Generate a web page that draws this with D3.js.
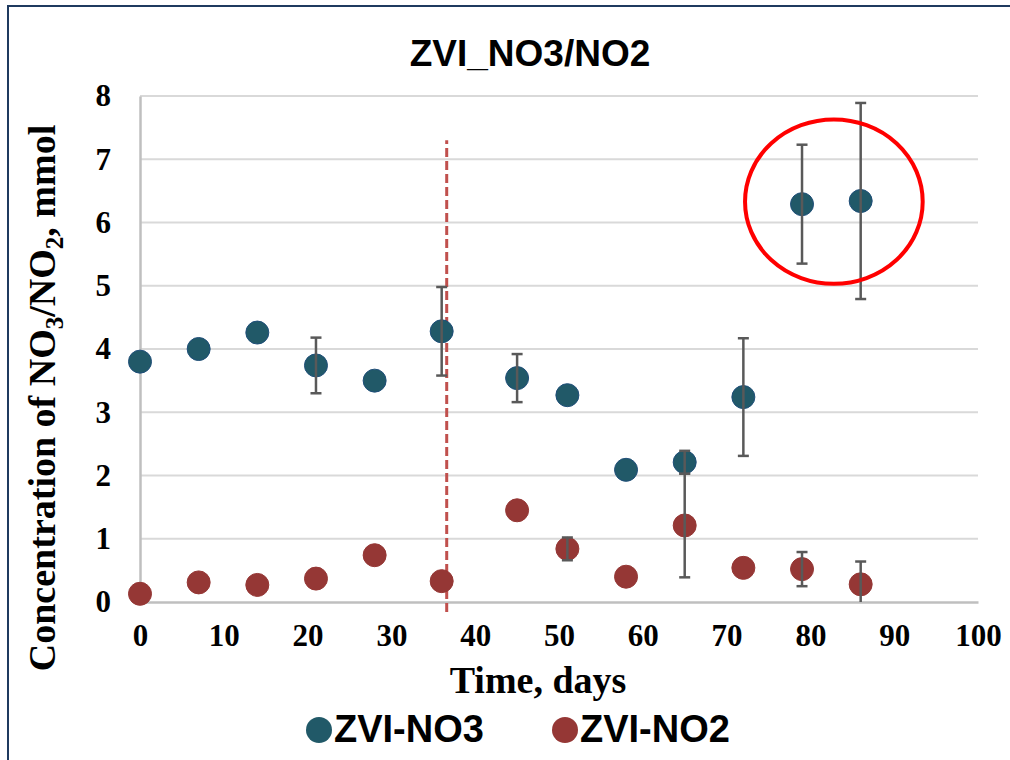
<!DOCTYPE html>
<html>
<head>
<meta charset="utf-8">
<script src="https://cdn.jsdelivr.net/npm/d3@7"></script>
<style>
  body { margin: 0; background: #fff; }
  svg { display: block; }
</style>
</head>
<body>
<div id="chart"></div>
<script>
// Data
var days = [0, 7, 14, 21, 28, 36, 45, 51, 58, 65, 72, 79, 86]
var no3 = [3.80, 4.00, 4.26, 3.74, 3.50, 4.28, 3.54, 3.27, 2.09, 2.21, 3.24, 6.29, 6.34]
var no3Err = [0, 0, 0, 0.44, 0, 0.70, 0.38, 0, 0, 0.18, 0.93, 0.94, 1.55]
var no2 = [0.13, 0.31, 0.27, 0.37, 0.74, 0.33, 1.45, 0.84, 0.40, 1.21, 0.54, 0.52, 0.28]
var no2Err = [0, 0, 0, 0, 0, 0, 0, 0.18, 0, 0.82, 0, 0.27, 0.36]
var xTicks = [0, 10, 20, 30, 40, 50, 60, 70, 80, 90, 100]
var yTicks = [0, 1, 2, 3, 4, 5, 6, 7, 8]
var markerDay = 36.6
var markerRange = [-0.16, 7.3]
var highlight = { day: 82.8, value: 6.33, rDays: 10.6, rValue: 1.3 }

var svgWidth = 1010
var svgHeight = 760

var margin = { top: 96, right: 32, bottom: 158, left: 140 }
var width = svgWidth - margin.left - margin.right
var height = svgHeight - margin.top - margin.bottom

var svg = d3.select("#chart")
  .append("svg")
  .attr("width", svgWidth)
  .attr("height", svgHeight)

// outer frame (only top and left edges fall inside the picture)
svg.append("path")
  .attr("d", "M8,760 L8,6 L1010,6")
  .attr("fill", "none")
  .attr("stroke", "#1f3a5f")
  .attr("stroke-width", 2)

var chartGroup = svg.append("g")
  .attr("transform", `translate(${margin.left}, ${margin.top})`)

var xScale = d3.scaleLinear().domain([0, 100]).range([0, width])
var yScale = d3.scaleLinear().domain([0, 8]).range([height, 0])

// horizontal gridlines
chartGroup.append("g")
  .selectAll("line")
  .data(yTicks.slice(1))
  .enter()
  .append("line")
  .attr("x1", 0)
  .attr("x2", width)
  .attr("y1", d => yScale(d))
  .attr("y2", d => yScale(d))
  .attr("stroke", "#d9d9d9")
  .attr("stroke-width", 2)

// axes
var bottomAxis = d3.axisBottom(xScale).tickValues(xTicks).tickSize(0).tickPadding(22)
var leftAxis = d3.axisLeft(yScale).tickValues(yTicks).tickSize(0).tickPadding(29)

var xAxis = chartGroup.append("g")
  .attr("transform", `translate(0, ${height})`)
  .call(bottomAxis)

var yAxis = chartGroup.append("g")
  .call(leftAxis)

xAxis.select(".domain").attr("stroke", "#bfbfbf").attr("stroke-width", 2.5)
yAxis.select(".domain").attr("stroke", "#bfbfbf").attr("stroke-width", 2.5)

chartGroup.selectAll(".tick text")
  .attr("font-family", "'Liberation Serif', 'Times New Roman', serif")
  .attr("font-weight", "bold")
  .attr("font-size", 31)
  .attr("fill", "#000")

// dashed reference line
chartGroup.append("line")
  .attr("x1", xScale(markerDay))
  .attr("x2", xScale(markerDay))
  .attr("y1", yScale(markerRange[0]))
  .attr("y2", yScale(markerRange[1]))
  .attr("stroke", "#c0504d")
  .attr("stroke-width", 3)
  .attr("stroke-dasharray", "9,4")

// error bars
function drawErrors(vals, errs) {
  var rows = days.map((d, i) => ({ day: d, v: vals[i], e: errs[i] })).filter(r => r.e > 0)
  var g = chartGroup.append("g")
    .attr("stroke", "#595959")
    .attr("stroke-width", 2.5)
  g.selectAll(".bar").data(rows).enter().append("line")
    .attr("x1", r => xScale(r.day))
    .attr("x2", r => xScale(r.day))
    .attr("y1", r => yScale(Math.max(0, r.v - r.e)))
    .attr("y2", r => yScale(r.v + r.e))
  g.selectAll(".capTop").data(rows).enter().append("line")
    .attr("x1", r => xScale(r.day) - 5.5)
    .attr("x2", r => xScale(r.day) + 5.5)
    .attr("y1", r => yScale(r.v + r.e))
    .attr("y2", r => yScale(r.v + r.e))
  g.selectAll(".capBottom").data(rows.filter(r => r.v - r.e > 0)).enter().append("line")
    .attr("x1", r => xScale(r.day) - 5.5)
    .attr("x2", r => xScale(r.day) + 5.5)
    .attr("y1", r => yScale(r.v - r.e))
    .attr("y2", r => yScale(r.v - r.e))
}

function drawPoints(vals, fill, stroke) {
  chartGroup.append("g")
    .selectAll("circle")
    .data(days.map((d, i) => ({ day: d, v: vals[i] })))
    .enter()
    .append("circle")
    .attr("cx", r => xScale(r.day))
    .attr("cy", r => yScale(r.v))
    .attr("r", 11.5)
    .attr("fill", fill)
    .attr("stroke", stroke)
    .attr("stroke-width", 1)
}

drawPoints(no2, "#953735", "#953735")
drawErrors(no2, no2Err)
drawPoints(no3, "#215968", "#1f4e79")
drawErrors(no3, no3Err)

// red highlight ellipse
chartGroup.append("ellipse")
  .attr("cx", xScale(highlight.day))
  .attr("cy", yScale(highlight.value))
  .attr("rx", xScale(highlight.rDays) - xScale(0))
  .attr("ry", yScale(0) - yScale(highlight.rValue))
  .attr("fill", "none")
  .attr("stroke", "#ff0000")
  .attr("stroke-width", 4)

// title
svg.append("text")
  .attr("x", 530)
  .attr("y", 66)
  .attr("text-anchor", "middle")
  .attr("font-family", "'Liberation Sans', Arial, sans-serif")
  .attr("font-weight", "bold")
  .attr("font-size", 37)
  .text("ZVI_NO3/NO2")

// axis titles
svg.append("text")
  .attr("x", margin.left + xScale(47.5))
  .attr("y", 693)
  .attr("text-anchor", "middle")
  .attr("font-family", "'Liberation Serif', 'Times New Roman', serif")
  .attr("font-weight", "bold")
  .attr("font-size", 38)
  .text("Time, days")

var yTitle = svg.append("text")
  .attr("transform", "translate(55, 398) rotate(-90)")
  .attr("text-anchor", "middle")
  .attr("font-family", "'Liberation Serif', 'Times New Roman', serif")
  .attr("font-weight", "bold")
  .attr("font-size", 38)
yTitle.append("tspan").text("Concentration of NO")
yTitle.append("tspan").attr("font-size", 25).attr("dy", 8).text("3")
yTitle.append("tspan").attr("dy", -8).text("/NO")
yTitle.append("tspan").attr("font-size", 25).attr("dy", 8).text("2")
yTitle.append("tspan").attr("dy", -8).text(", mmol")

// legend
var legendItems = [
  { label: "ZVI-NO3", fill: "#215968", x: 319 },
  { label: "ZVI-NO2", fill: "#953735", x: 565 }
]
var legend = svg.append("g")
legend.selectAll("circle")
  .data(legendItems)
  .enter()
  .append("circle")
  .attr("cx", d => d.x)
  .attr("cy", 730)
  .attr("r", 13)
  .attr("fill", d => d.fill)
legend.selectAll("text")
  .data(legendItems)
  .enter()
  .append("text")
  .attr("x", d => d.x + 15)
  .attr("y", 742)
  .attr("font-family", "'Liberation Sans', Arial, sans-serif")
  .attr("font-weight", "bold")
  .attr("font-size", 38)
  .text(d => d.label)
</script>
</body>
</html>
